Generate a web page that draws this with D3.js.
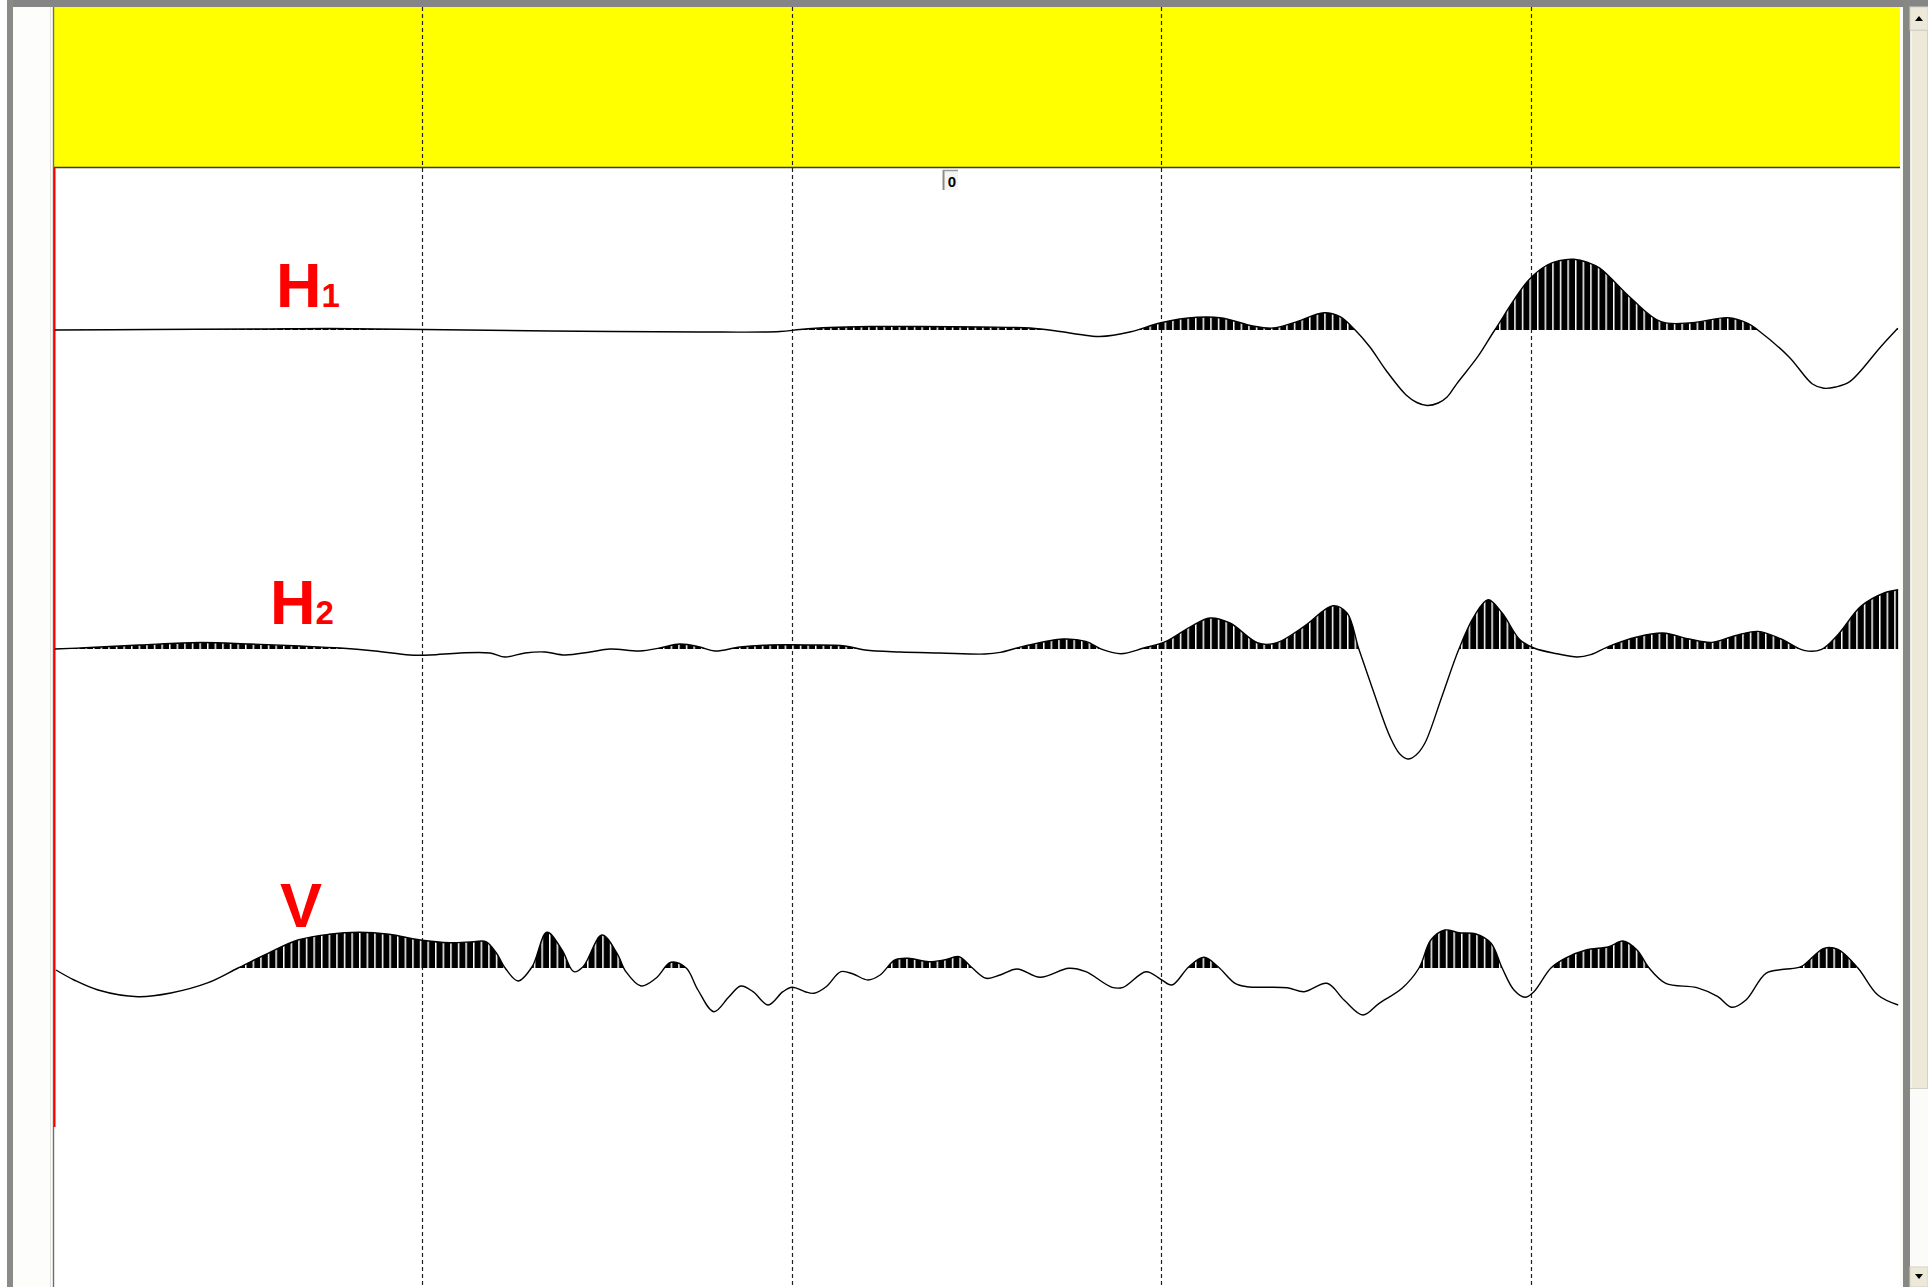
<!DOCTYPE html>
<html>
<head>
<meta charset="utf-8">
<script src="https://cdn.jsdelivr.net/npm/d3@7"></script>
<style>
  html, body { margin: 0; padding: 0; background: #ffffff; }
  svg { display: block; }
</style>
</head>
<body>
<svg id="chart" width="1928" height="1287"></svg>
<script>
// Time axis: 0–500 ms, one grid division every 100 ms
const timeTicks = [100, 200, 300, 400];
const traceNames = ["H1", "H2", "V"];
const markerTime = 241;      // "0" marker on the top strip
const markerLabel = "0";

// Channel H1: [time ms, amplitude]
const h1 = [
  [0.5, 0], [26.3, 0.5], [56.0, 1], [75.0, 1.5], [100.2, 0.5], [134.5, -1], [175.1, -2],
  [196.8, -1.5], [202.2, 0.5], [210.3, 2.5], [221.2, 3.5], [234.7, 3.5], [250.9, 3],
  [264.5, 2], [272.6, -1.5], [278.0, -4.5], [283.4, -6.5], [291.8, -1.7], [299.9, 7.3],
  [309.7, 12.7], [316.4, 12], [324.8, 4], [330.3, 2], [335.9, 7.3], [344.1, 17.3],
  [348.4, 13.3], [352.5, 0], [356.5, -17], [360.8, -40], [366.3, -65], [369.2, -72.5],
  [372.0, -75.5], [375.0, -73], [377.4, -67], [380.1, -53.3], [385.7, -26.7], [390.3, 0],
  [399.5, 50], [404.5, 65], [407.7, 69.3], [411.7, 70.7], [415.5, 67.5], [418.8, 61.7],
  [427.2, 31.7], [435.3, 8.3], [443.7, 7.3], [453.4, 12.3], [458.8, 6.7], [461.5, 0],
  [469.9, -26.7], [476.3, -54], [479.4, -58.3], [482.6, -57], [486.4, -51.7], [494.8, -16.7],
  [499.4, 1.7]
];

// Channel H2
const h2 = [
  [0.5, 0], [10.0, 1.5], [23.6, 4], [39.8, 6.5], [53.3, 5], [66.9, 3], [77.7, 1], [87.2, -2],
  [96.6, -6], [102.1, -6], [110.2, -4], [118.3, -4], [122.4, -8], [127.8, -4], [133.2, -3],
  [138.6, -6], [145.4, -3], [150.8, 0], [158.9, -2], [164.3, 1], [169.7, 5], [175.1, 2],
  [179.2, -2], [186.0, 2], [194.1, 4], [204.9, 4], [214.4, 3], [219.8, -1], [229.3, -3],
  [240.1, -4], [252.3, -5], [256.4, -3.4], [262.6, 2.6], [273.4, 10], [279.6, 7.6],
  [284.2, -0.7], [289.1, -4.7], [295.3, 1], [301.3, 7.6], [307.8, 22], [313.2, 31],
  [318.6, 26], [326.2, 6], [331.1, 6], [338.7, 22.6], [346.5, 43.3], [350.3, 36],
  [353.5, 0], [357.3, -40.7], [361.9, -87.4], [364.6, -105], [366.8, -110], [369.0, -106],
  [371.4, -94], [376.0, -47.4], [380.6, 0], [384.7, 32.6], [388.5, 49.3], [392.3, 36],
  [397.1, 9.3], [400.9, 1], [407.1, -4.7], [412.6, -8], [416.3, -5.7], [421.2, 2.6],
  [428.8, 12], [435.8, 16], [442.9, 10], [449.1, 6.6], [455.3, 13.3], [461.6, 17.6],
  [467.8, 10], [474.0, -1.4], [478.6, -0.7], [483.2, 14.3], [489.4, 42.6], [495.7, 56],
  [499.5, 59.3]
];

// Channel V
const v = [
  [0.8, -2], [5.7, -12], [12.2, -22], [23.0, -28.7], [31.9, -25], [42.0, -14.7], [50.1, 0],
  [58.2, 14.7], [66.3, 28], [74.7, 33.7], [82.8, 35.7], [91.0, 33.7], [99.4, 28],
  [107.5, 25.3], [114.0, 26.3], [117.2, 26.3], [120.2, 14], [122.4, 0], [125.9, -13],
  [129.7, 1.3], [133.7, 35.7], [137.8, 18], [141.0, -3.7], [143.5, 1.3], [148.6, 33],
  [152.7, 14.7], [155.1, -3.7], [159.2, -18], [163.2, -10.3], [167.3, 5.7], [171.4, 0],
  [174.6, -22], [178.9, -43.7], [183.0, -28.7], [186.2, -18], [189.5, -23.7], [193.6, -37],
  [197.6, -23.7], [200.1, -19.3], [203.6, -23.7], [206.0, -25.3], [209.3, -18.7],
  [213.3, -3.7], [216.6, -6], [220.6, -12], [223.9, -7], [227.9, 8], [231.5, 9.7],
  [237.1, 6.3], [241.2, 8], [245.3, 11.3], [248.5, 1.3], [252.6, -10.3], [256.4, -7],
  [261.0, -1], [267.2, -9.3], [275.0, -0.3], [279.6, -3.7], [286.7, -19.3], [289.7, -19.3],
  [295.9, -3.7], [299.9, -11.3], [302.9, -17], [307.5, 1.3], [311.6, 10.7], [315.4, 1.3],
  [320.0, -15.3], [323.2, -18.7], [334.1, -19.7], [338.7, -23.7], [344.9, -15.3],
  [349.5, -32], [354.6, -47], [359.0, -35.3], [365.2, -20.3], [369.8, 0], [373.0, 28],
  [376.8, 38], [380.6, 35.3], [385.2, 34], [389.3, 24.7], [392.3, 0], [395.5, -22],
  [398.5, -29.3], [400.9, -23.7], [405.5, 0], [409.3, 9.7], [415.0, 18], [421.2, 21.3],
  [425.0, 27], [428.8, 18], [432.1, 0], [436.6, -15.3], [445.0, -19.7], [450.7, -28.7],
  [454.5, -39.3], [458.3, -32], [463.7, -5.3], [468.6, -1.3], [473.2, 1.3], [479.4, 19.7],
  [483.2, 18.7], [488.6, 0], [494.0, -27], [499.5, -37]
];

const traces = [
  { key: "H1", sub: "1", data: h1 },
  { key: "H2", sub: "2", data: h2 },
  { key: "V",  sub: "",  data: v }
];

// ---- layout ----
const W = 1928, H = 1287;
const plotLeft = 53, plotRight = 1900;
const stripTop = 7, stripBottom = 167;
const baselines = [330, 649, 968];
const labelPos = [ {x: 276, y: 307}, {x: 270, y: 624}, {x: 280, y: 927} ];

const svg = d3.select("#chart");

const x = d3.scaleLinear().domain([0, 500]).range([plotLeft, plotRight]);

const defs = svg.append("defs");
// black fill broken by thin white verticals
const pat = defs.append("pattern")
  .attr("id", "hatch")
  .attr("patternUnits", "userSpaceOnUse")
  .attr("x", plotLeft + 2).attr("y", 0)
  .attr("width", 7.6).attr("height", 20);
pat.append("rect").attr("width", 7.6).attr("height", 20).attr("fill", "#000");
pat.append("rect").attr("x", 0).attr("width", 1.5).attr("height", 20).attr("fill", "#fff");

// window background and frame
svg.append("rect").attr("x", 0).attr("y", 0).attr("width", W).attr("height", H).attr("fill", "#ffffff");
svg.append("rect").attr("x", 7).attr("y", 0).attr("width", W - 7).attr("height", 7).attr("fill", "#858585");
svg.append("rect").attr("x", 7).attr("y", 0).attr("width", 6).attr("height", H).attr("fill", "#8a8a86");
svg.append("rect").attr("x", 13).attr("y", 7).attr("width", plotLeft - 13).attr("height", H - 7).attr("fill", "#fdfdfb");
svg.append("line").attr("x1", 50.5).attr("x2", 50.5).attr("y1", 7).attr("y2", H).attr("stroke", "#e2e2dc").attr("stroke-width", 1);

// plot area
svg.append("rect").attr("x", plotLeft).attr("y", stripTop).attr("width", plotRight - plotLeft).attr("height", H - stripTop).attr("fill", "#ffffff");
svg.append("rect").attr("x", plotLeft).attr("y", stripTop).attr("width", plotRight - plotLeft).attr("height", stripBottom - stripTop).attr("fill", "#ffff00");
svg.append("line").attr("x1", plotLeft).attr("x2", plotRight).attr("y1", stripBottom + 0.5).attr("y2", stripBottom + 0.5)
  .attr("stroke", "#3a3a2a").attr("stroke-width", 1.6);
svg.append("line").attr("x1", plotLeft + 0.5).attr("x2", plotLeft + 0.5).attr("y1", stripTop).attr("y2", H)
  .attr("stroke", "#6e6e6e").attr("stroke-width", 1.4);

// vertical dashed time grid
svg.append("g").selectAll("line").data(timeTicks).join("line")
  .attr("x1", d => Math.round(x(d)) + 0.5).attr("x2", d => Math.round(x(d)) + 0.5)
  .attr("y1", stripTop).attr("y2", H)
  .attr("stroke", "#202020").attr("stroke-width", 1.2)
  .attr("stroke-dasharray", "4,3");

// red cursor line at the left edge
svg.append("line").attr("x1", 54.5).attr("x2", 54.5).attr("y1", stripBottom + 1).attr("y2", 1127)
  .attr("stroke", "#ff0000").attr("stroke-width", 2);

// "0" marker
const mx = Math.round(x(markerTime));
const mk = svg.append("g");
mk.append("rect").attr("x", mx).attr("y", 170).attr("width", 15).attr("height", 20).attr("fill", "#f4f4f4");
mk.append("line").attr("x1", mx + 0.5).attr("x2", mx + 0.5).attr("y1", 170).attr("y2", 190).attr("stroke", "#8a8a8a").attr("stroke-width", 2);
mk.append("line").attr("x1", mx).attr("x2", mx + 15).attr("y1", 170.5).attr("y2", 170.5).attr("stroke", "#9a9a9a").attr("stroke-width", 1.5);
mk.append("text").attr("x", mx + 9).attr("y", 187).attr("text-anchor", "middle")
  .attr("font-family", "Liberation Sans, Arial, sans-serif").attr("font-weight", "bold").attr("font-size", 15)
  .attr("fill", "#000").text(markerLabel);

// traces
traces.forEach((tr, i) => {
  const base = baselines[i];
  const y = d3.scaleLinear().domain([-150, 150]).range([base + 150, base - 150]);
  const g = svg.append("g");

  const clipId = "pos" + i;
  defs.append("clipPath").attr("id", clipId)
    .append("rect").attr("x", plotLeft).attr("y", base - 150).attr("width", plotRight - plotLeft).attr("height", 150);

  const curve = d3.curveCatmullRom.alpha(0.5);
  const area = d3.area()
    .x(d => x(d[0])).y0(y(0)).y1(d => y(d[1]))
    .curve(curve);
  const line = d3.line()
    .x(d => x(d[0])).y(d => y(d[1]))
    .curve(curve);

  g.append("path").datum(tr.data).attr("d", area)
    .attr("fill", "url(#hatch)").attr("clip-path", `url(#${clipId})`);
  g.append("path").datum(tr.data).attr("d", line)
    .attr("fill", "none").attr("stroke", "#000").attr("stroke-width", 1.4).attr("stroke-linejoin", "round");

  // channel label
  const t = svg.append("text")
    .attr("x", labelPos[i].x).attr("y", labelPos[i].y)
    .attr("font-family", "Liberation Sans, Arial, sans-serif").attr("font-weight", "bold")
    .attr("fill", "#ff0000");
  t.append("tspan").attr("font-size", 63).text(tr.key[0]);
  if (tr.sub) t.append("tspan").attr("font-size", 33).text(tr.sub);
});

// right-hand scrollbar
const sb = svg.append("g");
sb.append("rect").attr("x", 1900).attr("y", 7).attr("width", 3).attr("height", H - 7).attr("fill", "#fbfbf8");
sb.append("rect").attr("x", 1903).attr("y", 0).attr("width", 7).attr("height", H).attr("fill", "#878784");
sb.append("rect").attr("x", 1910).attr("y", 7).attr("width", 18).attr("height", H - 7).attr("fill", "#fbfbf9");
// up button
sb.append("rect").attr("x", 1910).attr("y", 7).attr("width", 18).attr("height", 23).attr("fill", "#ece9d8").attr("stroke", "#d6d3c4");
sb.append("path").attr("d", "M1915,21 L1923,21 L1919,16 Z").attr("fill", "#000");
// thumb
sb.append("rect").attr("x", 1910.5).attr("y", 30.5).attr("width", 17).attr("height", 1058).attr("fill", "#ece9d8").attr("stroke", "#d4d0c8");
sb.append("line").attr("x1", 1911).attr("x2", 1911).attr("y1", 31).attr("y2", 1088).attr("stroke", "#ffffff");
// down button
sb.append("rect").attr("x", 1910).attr("y", 1267).attr("width", 18).attr("height", 20).attr("fill", "#ece9d8").attr("stroke", "#d6d3c4");
sb.append("path").attr("d", "M1915,1274 L1923,1274 L1919,1279 Z").attr("fill", "#000");
</script>
</body>
</html>
